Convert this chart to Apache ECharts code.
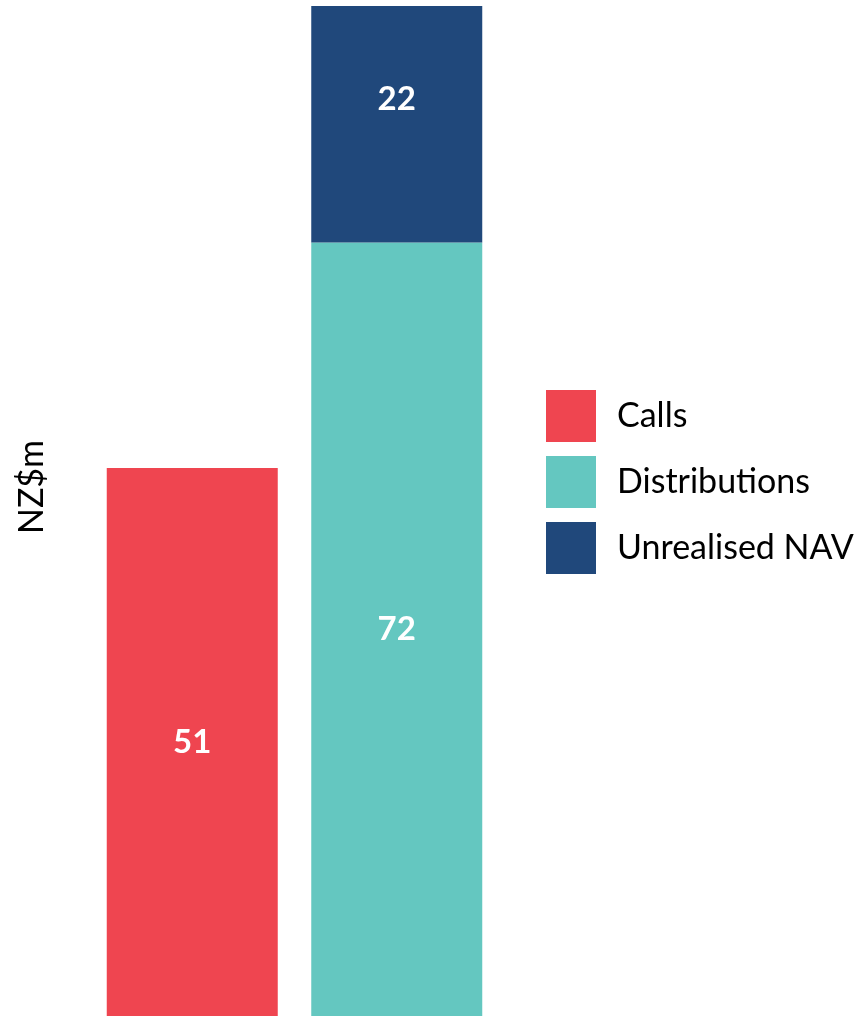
<!DOCTYPE html>
<html>
<head>
<meta charset="utf-8">
<script src="https://cdn.jsdelivr.net/npm/echarts@6/dist/echarts.min.js"></script>
<style>
html,body{margin:0;padding:0;background:#fff;}
#chart{width:861px;height:1016px;}
</style>
</head>
<body>
<div id="chart"></div>
<script>
const categories = ['Calls', 'Returns'];
const calls = [51, null];
const distributions = [null, 72];
const unrealisedNAV = [null, 22];
const axisLabel = 'NZ$m';

const chart = echarts.init(document.getElementById('chart'));
const font = 'Lato, "Open Sans", sans-serif';
const labelStyle = {
  show: true, position: 'inside', color: '#ffffff',
  fontFamily: font, fontWeight: 'bold', fontSize: 33
};
chart.setOption({
  animation: false,
  grid: { left: 90, width: 409, top: 6, bottom: 0, containLabel: false },
  xAxis: {
    type: 'category', data: categories,
    axisLine: { show: false }, axisTick: { show: false }, axisLabel: { show: false }
  },
  yAxis: {
    type: 'value', min: 0, max: 94,
    axisLine: { show: false }, axisTick: { show: false }, axisLabel: { show: false },
    splitLine: { show: false }
  },
  legend: {
    orient: 'vertical', left: 546, top: 390, padding: 0,
    itemWidth: 50, itemHeight: 52, itemGap: 14,
    icon: 'rect',
    textStyle: { fontFamily: font, fontSize: 34, color: '#000', padding: [0, 0, 0, 16] },
    data: ['Calls', 'Distributions', 'Unrealised NAV']
  },
  graphic: [{
    type: 'text', x: 32, y: 487, rotation: Math.PI / 2,
    style: { text: axisLabel, fontFamily: font, fontSize: 34, fill: '#000', align: 'center', verticalAlign: 'middle' }
  }],
  series: [
    { name: 'Calls', type: 'bar', stack: 'total', barWidth: 171, data: calls,
      itemStyle: { color: '#EF4550' }, label: labelStyle },
    { name: 'Distributions', type: 'bar', stack: 'total', barWidth: 171, data: distributions,
      itemStyle: { color: '#64C7C0' }, label: labelStyle },
    { name: 'Unrealised NAV', type: 'bar', stack: 'total', barWidth: 171, data: unrealisedNAV,
      itemStyle: { color: '#20487B' }, label: Object.assign({}, labelStyle, { offset: [0, -25] }) }
  ]
});
</script>
</body>
</html>
